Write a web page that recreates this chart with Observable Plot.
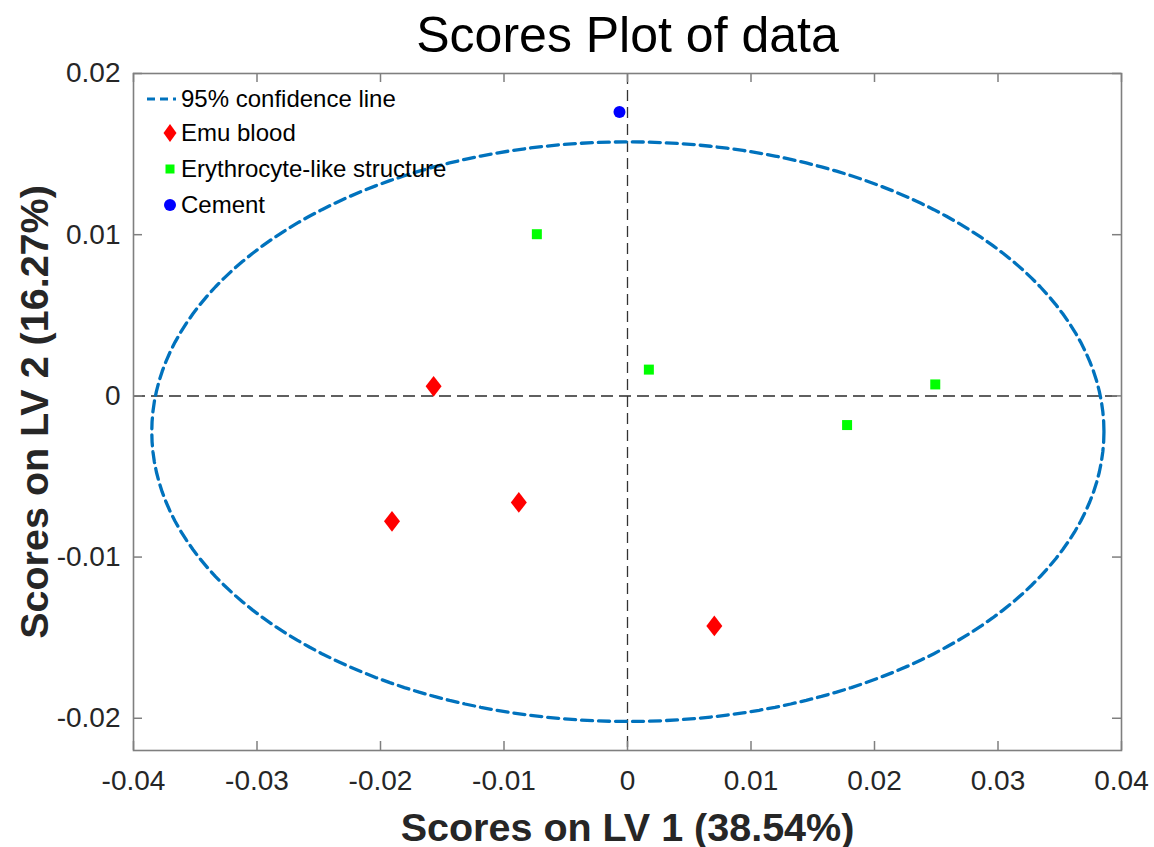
<!DOCTYPE html>
<html><head><meta charset="utf-8">
<script src="https://cdn.jsdelivr.net/npm/d3@7"></script>
<script src="https://cdn.jsdelivr.net/npm/@observablehq/plot@0.6"></script>
<style>
html,body{margin:0;padding:0;background:#fff;}
#wrap{position:relative;width:1154px;height:847px;font-family:"Liberation Sans",Arial,sans-serif;}
#legend{position:absolute;left:0;top:0;pointer-events:none;}
</style></head><body><div id="wrap"></div>
<script>
// ---- data ----
const title = "Scores Plot of data";
const xLabel = "Scores on LV 1 (38.54%)";
const yLabel = "Scores on LV 2 (16.27%)";
const xTicks = [-0.04, -0.03, -0.02, -0.01, 0, 0.01, 0.02, 0.03, 0.04];
const yTicks = [-0.02, -0.01, 0, 0.01, 0.02];
const xDomain = [-0.04, 0.04];
const yDomain = [-0.022, 0.02];
const emuX = [-0.0157, -0.01907, -0.0088, 0.00703];
const emuY = [0.00059, -0.00778, -0.00661, -0.01427];
const eryX = [-0.00734, 0.00173, 0.02492, 0.01778];
const eryY = [0.01003, 0.00163, 0.00071, -0.00181];
const cementX = [-0.00065];
const cementY = [0.01761];
const ellipseCenter = [0.00003, -0.00222];
const ellipseRadii = [0.03855, 0.01798];
const legendLabels = ["95% confidence line", "Emu blood", "Erythrocyte-like structure", "Cement"];

// ---- build ----
const emu = emuX.map((x, i) => ({x, y: emuY[i]}));
const ery = eryX.map((x, i) => ({x, y: eryY[i]}));
const cement = cementX.map((x, i) => ({x, y: cementY[i]}));
const ellipse = d3.range(0, 361, 2).map(a => {
  const t = a * Math.PI / 180;
  return {x: ellipseCenter[0] + ellipseRadii[0] * Math.cos(t), y: ellipseCenter[1] + ellipseRadii[1] * Math.sin(t)};
});

const diamond = {
  draw(ctx, size) {
    const r = Math.sqrt(size / Math.PI);
    ctx.moveTo(0, -1.3 * r); ctx.lineTo(r, 0); ctx.lineTo(0, 1.3 * r); ctx.lineTo(-r, 0); ctx.closePath();
  }
};

const W = 1154, H = 847, mL = 133, mR = 33, mT = 73, mB = 97;
const fw = W - mL - mR, fh = H - mT - mB;
const gray = "#7f7f7f";
const fmt = d => String(d);
const font = "'Liberation Sans', Arial, Helvetica, sans-serif";

const plot = Plot.plot({
  width: W, height: H,
  marginLeft: mL, marginRight: mR, marginTop: mT, marginBottom: mB,
  x: {domain: xDomain},
  y: {domain: yDomain},
  style: {fontFamily: font, fontSize: "28px", color: "#262626", background: "#fff", overflow: "visible"},
  marks: [
    Plot.ruleY([0], {stroke: "#5f5f5f", strokeWidth: 2, strokeDasharray: "12,6"}),
    Plot.ruleX([0], {stroke: "#333", strokeWidth: 1.3, strokeDasharray: "11,6"}),
    Plot.line(ellipse, {x: "x", y: "y", stroke: "#0072BD", strokeWidth: 3.3, strokeDasharray: "11,6"}),
    Plot.dot(emu, {x: "x", y: "y", symbol: diamond, r: 8, fill: "#ff0000", stroke: null}),
    Plot.dot(ery, {x: "x", y: "y", symbol: "square", r: 5.64, fill: "#00ff00", stroke: null}),
    Plot.dot(cement, {x: "x", y: "y", symbol: "circle", r: 6, fill: "#0000ff", stroke: null}),
    Plot.frame({stroke: gray, strokeWidth: 1.6}),
    Plot.tickX(xTicks, {x: d => d, insetTop: fh - 9, stroke: gray, strokeWidth: 1.5}),
    Plot.tickX(xTicks, {x: d => d, insetBottom: fh - 9, stroke: gray, strokeWidth: 1.5}),
    Plot.tickY(yTicks, {y: d => d, insetRight: fw - 9, stroke: gray, strokeWidth: 1.5}),
    Plot.tickY(yTicks, {y: d => d, insetLeft: fw - 9, stroke: gray, strokeWidth: 1.5}),
    Plot.axisX({ticks: xTicks, tickSize: 0, tickPadding: 20, tickFormat: fmt, label: null, fill: "#262626", fontSize: 28}),
    Plot.axisY({ticks: yTicks, tickSize: 0, tickPadding: 13, tickFormat: fmt, label: null, fill: "#262626", fontSize: 28}),
    Plot.text([title], {text: d => d, frameAnchor: "top", lineAnchor: "middle", dy: -38, fontSize: 50, fill: "#000"}),
    Plot.text([xLabel], {text: d => d, frameAnchor: "bottom", lineAnchor: "middle", textAnchor: "middle", dy: 78, fontSize: 39.5, fontWeight: "bold", fill: "#262626"}),
    Plot.text([yLabel], {text: d => d, frameAnchor: "left", lineAnchor: "middle", textAnchor: "middle", dx: -98, rotate: -90, fontSize: 39.5, fontWeight: "bold", fill: "#262626"})
  ]
});
const wrap = document.getElementById("wrap");
wrap.appendChild(plot);

// ---- legend (inside the frame, top-left) ----
const ns = "http://www.w3.org/2000/svg";
const lg = document.createElementNS(ns, "svg");
lg.setAttribute("id", "legend");
lg.setAttribute("width", 480);
lg.setAttribute("height", 230);
const rowY = [99, 133, 169, 205];
const iconX = 170, textX = 181;
function el(tag, attrs) { const e = document.createElementNS(ns, tag); for (const k in attrs) e.setAttribute(k, attrs[k]); lg.appendChild(e); return e; }
el("line", {x1: 147, x2: 176, y1: rowY[0], y2: rowY[0], stroke: "#0072BD", "stroke-width": 3, "stroke-dasharray": "8,5"});
el("path", {d: `M${iconX},${rowY[1]-9}L${iconX+6.5},${rowY[1]}L${iconX},${rowY[1]+9}L${iconX-6.5},${rowY[1]}Z`, fill: "#ff0000"});
el("rect", {x: iconX - 4.5, y: rowY[2] - 4.5, width: 9, height: 9, fill: "#00ff00"});
el("circle", {cx: iconX, cy: rowY[3], r: 6, fill: "#0000ff"});
legendLabels.forEach((t, i) => {
  const tx = el("text", {x: textX, y: rowY[i], dy: "0.35em", "font-size": 24, "font-family": font, fill: "#000"});
  tx.textContent = t;
});
wrap.appendChild(lg);
</script></body></html>
